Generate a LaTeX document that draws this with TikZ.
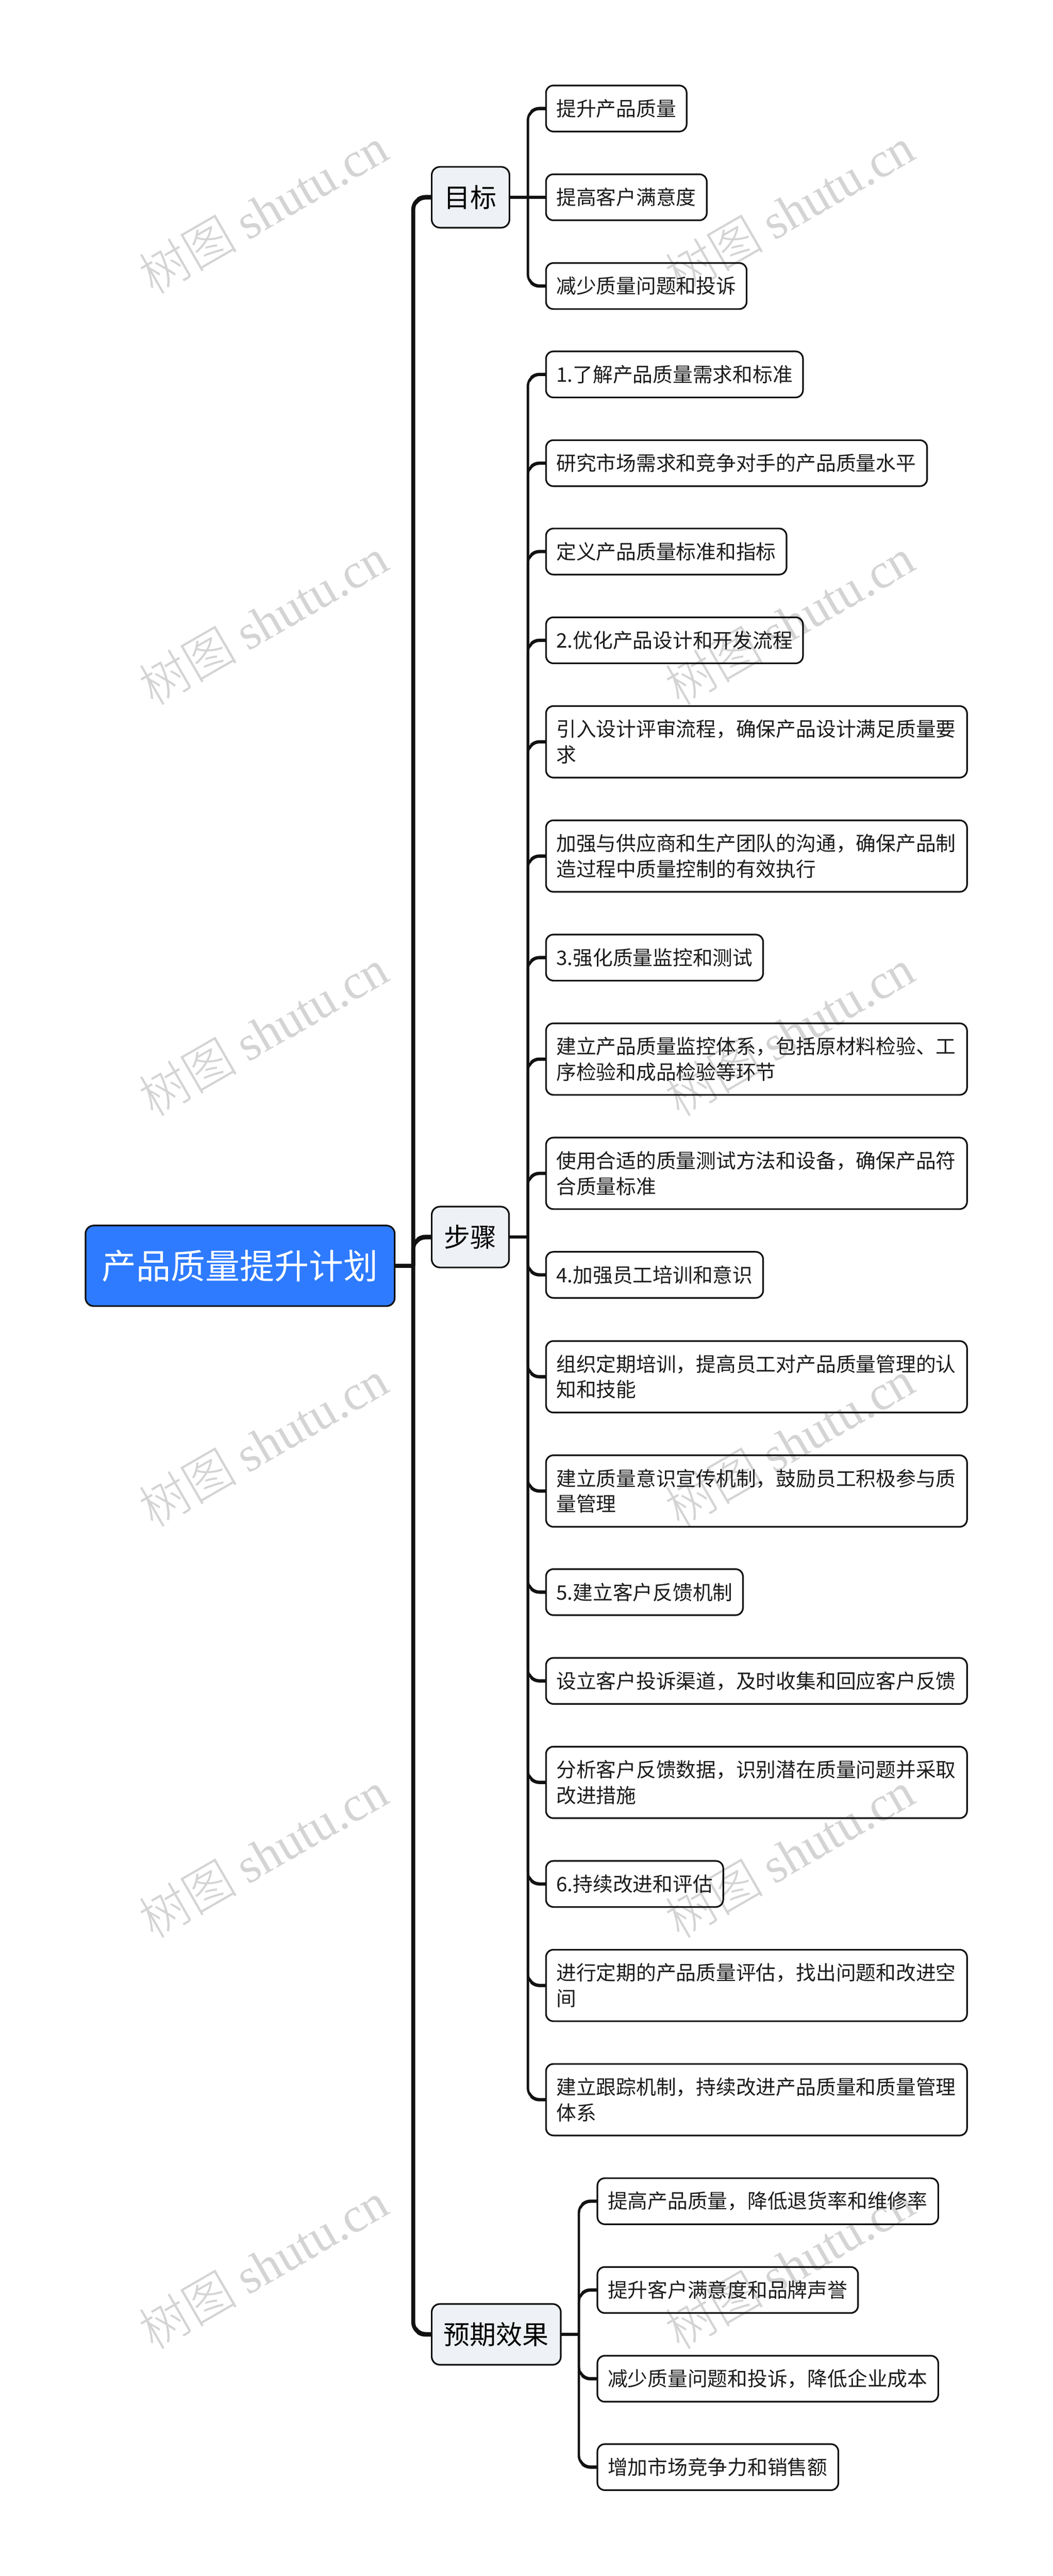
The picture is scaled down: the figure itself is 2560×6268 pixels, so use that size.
\documentclass[tikz,border=0pt]{standalone}
\usepackage{fontspec}
\setmainfont{Noto Sans CJK SC}
\newfontfamily\wmcjk{Noto Sans CJK SC Light}
\newfontfamily\wmlat{Liberation Serif}
\definecolor{rootblue}{HTML}{2E7BFF}
\definecolor{subfill}{HTML}{EEF1F5}
\definecolor{inkline}{HTML}{111111}
\definecolor{inktext}{HTML}{1C1C1C}
\definecolor{wmgray}{HTML}{D4D4D4}
\tikzset{
  boxbase/.style={draw=inkline,line width=1pt,inner xsep=6.25pt,inner ysep=0pt,outer sep=0pt,anchor=west},
  leafbox/.style={boxbase,rounded corners=4.5pt,align=left,text=inktext,
    font=\fontsize{12.15pt}{15.5pt}\selectfont},
  subbox/.style={boxbase,rounded corners=5pt,fill=subfill,align=center,text=black,
    font=\fontsize{16pt}{20pt}\selectfont},
  rootbox/.style={boxbase,rounded corners=5pt,fill=rootblue,align=center,text=white,
    font=\fontsize{21pt}{26pt}\selectfont},
  trunkline/.style={draw=inkline,line width=2.4pt,rounded corners=7.5pt},
  trunkend/.style={draw=inkline,line width=2.8pt,rounded corners=7.5pt},
  branchline/.style={draw=inkline,line width=1.45pt,rounded corners=7pt},
  branchend/.style={draw=inkline,line width=2pt,rounded corners=7pt},
  stemline/.style={draw=inkline,line width=2pt},
  rootstem/.style={draw=inkline,line width=2.7pt},
  wmtext/.style={text=wmgray,rotate=30,inner sep=0pt,font=\fontsize{30pt}{34pt}\selectfont},
}
% name, style, left, right, centre y, height, text (pixels of the reference)
\newcommand\bx[7]{%
  \pgfmathsetmacro\tw{(#4-#3)*0.25-12.5}%
  \pgfmathsetmacro\mh{#6*0.25}%
  \node[#2,text width=\tw pt,minimum height=\mh pt] (#1) at (#3,#5) {#7};}
\newcommand\lf[6]{\bx{#1}{leafbox}{#2}{#3}{#4}{#5}{#6}}
\begin{document}
\begin{tikzpicture}[x=0.25pt,y=-0.25pt]
\path[use as bounding box,fill=white] (0,0) rectangle (2560,6268);
% watermark
\foreach \r in {0,...,5}{
  \foreach \c in {0,1}{
    \pgfmathsetmacro\wx{640+1280*\c}
    \pgfmathsetmacro\wy{512+1000*\r}
    \node[wmtext] (wm\r\c) at (\wx,\wy) {{\wmcjk 树图} {\wmlat shutu.cn}};
  }
}
% root and main topics
\bx{root}{rootbox}{208}{960}{3080}{196}{产品质量提升计划}
\bx{goal}{subbox}{1050}{1239}{480}{148}{目标}
\bx{steps}{subbox}{1050}{1238}{3010}{148}{步骤}
\bx{effect}{subbox}{1050}{1364}{5680}{148}{预期效果}
% goal leaves
\lf{g1}{1328}{1670}{264}{112}{提升产品质量}
\lf{g2}{1328}{1719}{480}{112}{提高客户满意度}
\lf{g3}{1328}{1816}{696}{112}{减少质量问题和投诉}
% step leaves
\lf{s1}{1328}{1953}{911}{112}{1.了解产品质量需求和标准}
\lf{s2}{1328}{2255}{1127}{112}{研究市场需求和竞争对手的产品质量水平}
\lf{s3}{1328}{1913}{1342}{112}{定义产品质量标准和指标}
\lf{s4}{1328}{1953}{1558}{112}{2.优化产品设计和开发流程}
\lf{s5}{1328}{2352}{1805}{174}{引入设计评审流程，确保产品设计满足质量要\\求}
\lf{s6}{1328}{2352}{2083}{174}{加强与供应商和生产团队的沟通，确保产品制\\造过程中质量控制的有效执行}
\lf{s7}{1328}{1856}{2330}{112}{3.强化质量监控和测试}
\lf{s8}{1328}{2352}{2577}{174}{建立产品质量监控体系，包括原材料检验、工\\序检验和成品检验等环节}
\lf{s9}{1328}{2352}{2855}{174}{使用合适的质量测试方法和设备，确保产品符\\合质量标准}
\lf{s10}{1328}{1856}{3102}{112}{4.加强员工培训和意识}
\lf{s11}{1328}{2352}{3350}{174}{组织定期培训，提高员工对产品质量管理的认\\知和技能}
\lf{s12}{1328}{2352}{3628}{174}{建立质量意识宣传机制，鼓励员工积极参与质\\量管理}
\lf{s13}{1328}{1807}{3874}{112}{5.建立客户反馈机制}
\lf{s14}{1328}{2352}{4090}{112}{设立客户投诉渠道，及时收集和回应客户反馈}
\lf{s15}{1328}{2352}{4337}{174}{分析客户反馈数据，识别潜在质量问题并采取\\改进措施}
\lf{s16}{1328}{1759}{4584}{112}{6.持续改进和评估}
\lf{s17}{1328}{2352}{4831}{174}{进行定期的产品质量评估，找出问题和改进空\\间}
\lf{s18}{1328}{2352}{5109}{174}{建立跟踪机制，持续改进产品质量和质量管理\\体系}
% effect leaves
\lf{e1}{1453}{2282}{5356}{112}{提高产品质量，降低退货率和维修率}
\lf{e2}{1453}{2087}{5572}{112}{提升客户满意度和品牌声誉}
\lf{e3}{1453}{2282}{5788}{112}{减少质量问题和投诉，降低企业成本}
\lf{e4}{1453}{2039}{6003}{112}{增加市场竞争力和销售额}
% junctions
\coordinate (busroot) at (1005,3080);
\coordinate (busgoal) at (1284,480);
\coordinate (bussteps) at (1284,3010);
\coordinate (buseffect) at (1408,5680);
% connectors
\draw[rootstem] (root.east) -- (busroot);
\foreach \n in {goal,steps,effect}{ \draw[trunkline] (busroot) |- (\n.west); }
\draw[stemline] (goal.east) -- (busgoal);
\draw[stemline] (steps.east) -- (bussteps);
\draw[stemline] (effect.east) -- (buseffect);
\foreach \n in {g1,g3}{ \draw[branchline] (busgoal) |- (\n.west); }
\draw[stemline] (busgoal) -- (g2.west);
\foreach \n in {s1,s2,s3,s4,s5,s6,s7,s8,s9,s10,s11,s12,s13,s14,s15,s16,s17,s18}{ \draw[branchline] (bussteps) |- (\n.west); }
\foreach \n in {e1,e2,e3,e4}{ \draw[branchline] (buseffect) |- (\n.west); }
% the connectors swell towards the box they reach
\begin{scope}
  \clip (1014,0) rectangle (1050,6268);
  \foreach \n in {goal,steps,effect}{ \draw[trunkend] (busroot) |- (\n.west); }
\end{scope}
\begin{scope}
  \clip (1290,0) rectangle (1328,6268);
  \foreach \n in {g1,g3}{ \draw[branchend] (busgoal) |- (\n.west); }
  \foreach \n in {s1,s2,s3,s4,s5,s6,s7,s8,s9,s10,s11,s12,s13,s14,s15,s16,s17,s18}{ \draw[branchend] (bussteps) |- (\n.west); }
\end{scope}
\begin{scope}
  \clip (1414,0) rectangle (1453,6268);
  \foreach \n in {e1,e2,e3,e4}{ \draw[branchend] (buseffect) |- (\n.west); }
\end{scope}
\end{tikzpicture}
\end{document}
